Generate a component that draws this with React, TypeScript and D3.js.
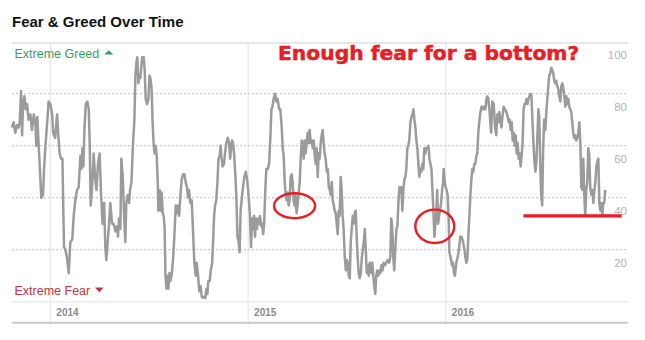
import React from 'react';
import * as d3 from 'd3';

const TITLE = 'Fear & Greed Over Time';
const ANNOTATION = 'Enough fear for a bottom?';
const GREED_LABEL = 'Extreme Greed';
const FEAR_LABEL = 'Extreme Fear';
const YEAR_TICKS = [2014, 2015, 2016];
const VALUE_GRID = [20, 40, 60, 80];
const VALUE_LABELS = [20, 40, 60, 80, 100];
const TIME_DOMAIN = [2013.806, 2016.921];

// [decimal year, Fear & Greed index]
const SERIES: [number, number][] = [
  [2013.806, 67], [2013.814, 69], [2013.823, 65], [2013.832, 68], [2013.840, 67], [2013.845, 69], [2013.852, 81], [2013.857, 64],
  [2013.862, 76], [2013.869, 79], [2013.875, 74], [2013.882, 76], [2013.890, 70], [2013.899, 72], [2013.907, 66], [2013.916, 72],
  [2013.924, 69], [2013.929, 60], [2013.934, 71], [2013.941, 60], [2013.949, 48], [2013.954, 40], [2013.963, 41], [2013.968, 51],
  [2013.976, 61], [2013.985, 70], [2013.991, 77], [2014.000, 76], [2014.009, 72], [2014.014, 65], [2014.024, 63], [2014.034, 72],
  [2014.040, 64], [2014.047, 57], [2014.054, 55], [2014.061, 55], [2014.066, 33], [2014.069, 21], [2014.076, 20], [2014.084, 17],
  [2014.093, 11], [2014.101, 23], [2014.111, 24], [2014.118, 33], [2014.126, 39], [2014.135, 43], [2014.143, 44], [2014.152, 56],
  [2014.157, 51], [2014.162, 59], [2014.167, 52], [2014.172, 66], [2014.179, 76], [2014.187, 77], [2014.194, 74], [2014.199, 61],
  [2014.204, 37], [2014.211, 44], [2014.219, 57], [2014.226, 48], [2014.233, 43], [2014.241, 53], [2014.249, 57], [2014.256, 42],
  [2014.264, 30], [2014.272, 38], [2014.278, 21], [2014.283, 16], [2014.290, 23], [2014.297, 30], [2014.303, 38], [2014.312, 30],
  [2014.320, 30], [2014.329, 27], [2014.337, 29], [2014.342, 25], [2014.347, 32], [2014.354, 28], [2014.359, 55], [2014.366, 48],
  [2014.373, 33], [2014.379, 23], [2014.384, 38], [2014.391, 41], [2014.398, 38], [2014.403, 43], [2014.410, 46],
  [2014.418, 61], [2014.425, 70], [2014.430, 87], [2014.435, 92], [2014.440, 94], [2014.445, 84], [2014.450, 87], [2014.455, 86],
  [2014.464, 94], [2014.472, 94], [2014.477, 89], [2014.482, 78], [2014.489, 76], [2014.496, 78], [2014.501, 87], [2014.506, 86],
  [2014.512, 82], [2014.517, 69], [2014.522, 61], [2014.527, 57], [2014.532, 60], [2014.538, 56], [2014.543, 46], [2014.546, 35],
  [2014.553, 43], [2014.558, 35], [2014.563, 42], [2014.568, 34], [2014.573, 33], [2014.578, 28], [2014.582, 10], [2014.587, 5],
  [2014.592, 10], [2014.597, 5], [2014.602, 11], [2014.607, 8], [2014.613, 10], [2014.620, 16], [2014.627, 25], [2014.634, 37],
  [2014.641, 34], [2014.646, 37], [2014.651, 33], [2014.657, 40], [2014.664, 47], [2014.671, 49], [2014.678, 49], [2014.684, 46],
  [2014.691, 44], [2014.696, 40], [2014.701, 43], [2014.708, 38], [2014.715, 39], [2014.722, 26], [2014.728, 15], [2014.735, 10],
  [2014.740, 15], [2014.747, 10], [2014.753, 4], [2014.760, 6], [2014.765, 2], [2014.772, 1.5], [2014.779, 2], [2014.784, 1.5],
  [2014.789, 5], [2014.794, 3], [2014.799, 8], [2014.806, 8], [2014.811, 12], [2014.818, 15], [2014.823, 23], [2014.828, 33],
  [2014.833, 37], [2014.839, 39], [2014.845, 46], [2014.850, 55], [2014.856, 56], [2014.861, 60], [2014.866, 55], [2014.871, 52],
  [2014.878, 53], [2014.883, 57], [2014.890, 61], [2014.897, 63], [2014.904, 61], [2014.909, 55], [2014.914, 59], [2014.919, 62],
  [2014.924, 61], [2014.929, 57], [2014.936, 48], [2014.941, 39], [2014.946, 25], [2014.952, 23], [2014.957, 19], [2014.962, 35],
  [2014.967, 39], [2014.974, 44], [2014.981, 48], [2014.988, 50], [2014.995, 47], [2015.000, 43], [2015.005, 38], [2015.010, 32],
  [2015.015, 21], [2015.020, 32], [2015.025, 28], [2015.030, 33], [2015.035, 25], [2015.040, 32], [2015.045, 28], [2015.050, 32],
  [2015.055, 30], [2015.060, 33], [2015.066, 29], [2015.071, 30], [2015.076, 26], [2015.081, 30], [2015.087, 43], [2015.092, 51],
  [2015.099, 51], [2015.106, 53], [2015.113, 64], [2015.118, 74], [2015.123, 75], [2015.129, 78], [2015.136, 80], [2015.143, 77],
  [2015.149, 78], [2015.157, 74], [2015.163, 74], [2015.170, 67], [2015.175, 59], [2015.180, 56], [2015.185, 46], [2015.190, 41],
  [2015.195, 39], [2015.200, 42], [2015.205, 37], [2015.210, 39], [2015.215, 48], [2015.220, 49], [2015.225, 46], [2015.230, 39],
  [2015.235, 37], [2015.240, 41], [2015.245, 34], [2015.251, 38], [2015.256, 42], [2015.261, 46], [2015.266, 55], [2015.271, 62],
  [2015.276, 61], [2015.281, 55], [2015.286, 62], [2015.291, 57], [2015.296, 61], [2015.301, 65], [2015.306, 61], [2015.311, 66],
  [2015.317, 61], [2015.322, 62], [2015.327, 59], [2015.332, 62], [2015.337, 56], [2015.342, 53], [2015.347, 59], [2015.352, 48],
  [2015.357, 57], [2015.362, 55], [2015.367, 61], [2015.372, 64], [2015.377, 66], [2015.382, 61], [2015.387, 57], [2015.392, 55],
  [2015.398, 50], [2015.403, 51], [2015.408, 44], [2015.413, 43], [2015.418, 41], [2015.423, 46], [2015.428, 39], [2015.433, 37],
  [2015.438, 35], [2015.443, 34], [2015.448, 30], [2015.453, 26], [2015.458, 35], [2015.463, 33], [2015.468, 48], [2015.473, 43],
  [2015.478, 33], [2015.483, 28], [2015.489, 17], [2015.494, 12], [2015.499, 16], [2015.504, 15], [2015.509, 10], [2015.514, 9],
  [2015.519, 23], [2015.524, 28], [2015.529, 33], [2015.534, 30], [2015.539, 34], [2015.544, 35], [2015.549, 25], [2015.554, 17],
  [2015.559, 11], [2015.564, 9], [2015.570, 11], [2015.575, 17], [2015.580, 20], [2015.585, 23], [2015.590, 28], [2015.595, 20],
  [2015.600, 11], [2015.605, 14], [2015.610, 10], [2015.615, 15],
  [2015.618, 14], [2015.623, 11], [2015.628, 15], [2015.633, 10], [2015.638, 6], [2015.643, 3], [2015.648, 10], [2015.653, 12],
  [2015.658, 10], [2015.664, 12], [2015.669, 11], [2015.674, 14], [2015.679, 12], [2015.685, 15], [2015.692, 14], [2015.699, 15],
  [2015.706, 16], [2015.713, 15], [2015.719, 17], [2015.724, 32], [2015.729, 28], [2015.734, 17], [2015.739, 12], [2015.744, 20],
  [2015.750, 28], [2015.755, 29], [2015.760, 38], [2015.765, 44], [2015.770, 42], [2015.775, 44], [2015.780, 35], [2015.785, 43],
  [2015.790, 47], [2015.795, 48], [2015.800, 51], [2015.805, 59], [2015.810, 60], [2015.815, 62], [2015.821, 69], [2015.826, 71],
  [2015.831, 72], [2015.836, 74], [2015.841, 70], [2015.846, 67], [2015.851, 62], [2015.856, 59], [2015.861, 53], [2015.866, 48],
  [2015.871, 51], [2015.876, 50], [2015.881, 53], [2015.886, 51], [2015.891, 59], [2015.896, 57], [2015.901, 59], [2015.906, 59],
  [2015.912, 60], [2015.917, 55], [2015.922, 53], [2015.927, 51], [2015.932, 43], [2015.937, 35], [2015.942, 25], [2015.947, 30],
  [2015.952, 35], [2015.956, 43], [2015.961, 30], [2015.966, 33], [2015.970, 35], [2015.976, 38], [2015.981, 43], [2015.986, 46],
  [2015.989, 51], [2015.994, 46], [2015.999, 44], [2016.004, 43], [2016.009, 41], [2016.014, 32], [2016.018, 19], [2016.024, 17],
  [2016.031, 14], [2016.036, 15], [2016.041, 11], [2016.046, 10], [2016.053, 15], [2016.059, 17], [2016.066, 20], [2016.073, 25],
  [2016.080, 25], [2016.087, 23], [2016.094, 20], [2016.099, 17], [2016.104, 15], [2016.109, 17], [2016.114, 26], [2016.119, 33],
  [2016.124, 41], [2016.129, 47], [2016.134, 51], [2016.139, 50], [2016.144, 53], [2016.149, 53], [2016.154, 56], [2016.159, 57],
  [2016.164, 65], [2016.170, 70], [2016.175, 73], [2016.180, 75], [2016.185, 75], [2016.190, 74], [2016.195, 75], [2016.200, 74],
  [2016.205, 78], [2016.210, 79], [2016.215, 78], [2016.220, 74],
  [2016.229, 65], [2016.235, 77], [2016.242, 76], [2016.249, 67], [2016.255, 64], [2016.260, 72], [2016.265, 69], [2016.270, 73],
  [2016.276, 70], [2016.281, 67], [2016.286, 71], [2016.292, 75], [2016.299, 74], [2016.306, 73], [2016.313, 71], [2016.318, 69],
  [2016.323, 70], [2016.328, 66], [2016.333, 69], [2016.338, 62], [2016.343, 65], [2016.348, 60], [2016.353, 64], [2016.358, 57],
  [2016.363, 61], [2016.368, 55], [2016.373, 57], [2016.378, 52], [2016.383, 56], [2016.388, 61], [2016.393, 74], [2016.398, 76],
  [2016.403, 76], [2016.408, 78], [2016.413, 76], [2016.418, 78], [2016.423, 79], [2016.428, 80], [2016.433, 79], [2016.438, 69],
  [2016.443, 61], [2016.448, 54], [2016.453, 50], [2016.458, 54], [2016.463, 64], [2016.468, 74], [2016.472, 71], [2016.477, 54],
  [2016.482, 41], [2016.487, 37], [2016.492, 59], [2016.497, 70], [2016.503, 66], [2016.508, 73], [2016.513, 78], [2016.518, 83],
  [2016.523, 87], [2016.528, 88], [2016.533, 90], [2016.538, 89], [2016.543, 88], [2016.548, 85], [2016.553, 84], [2016.558, 85],
  [2016.563, 83], [2016.568, 82], [2016.573, 79], [2016.579, 77], [2016.584, 83], [2016.589, 84], [2016.594, 82], [2016.599, 79],
  [2016.604, 75], [2016.609, 79], [2016.614, 76], [2016.619, 78], [2016.624, 75], [2016.629, 74], [2016.634, 73], [2016.639, 69],
  [2016.644, 65], [2016.649, 63], [2016.654, 64], [2016.659, 62], [2016.665, 63], [2016.670, 65], [2016.675, 69], [2016.680, 61],
  [2016.685, 44], [2016.690, 43], [2016.695, 55], [2016.700, 41], [2016.705, 33], [2016.710, 43], [2016.715, 46], [2016.720, 59],
  [2016.725, 57], [2016.730, 44], [2016.736, 41], [2016.741, 43], [2016.746, 38], [2016.751, 43], [2016.756, 46], [2016.761, 52],
  [2016.766, 54], [2016.771, 55], [2016.776, 38], [2016.781, 35], [2016.786, 38], [2016.791, 33], [2016.796, 38], [2016.801, 38],
  [2016.806, 43],
];

// annotation anchors: [decimal year, index value]
const CIRCLED_POINTS: [number, number][] = [[2015.235, 36.9], [2015.944, 29.0]];
const SUPPORT_LEVEL = 33;
const SUPPORT_SPAN = [2016.392, 2016.889];

const W = 645;
const H = 340;
const RED = '#ec1c24';

export default function App() {
  const x = d3.scaleLinear().domain(TIME_DOMAIN).range([12, 628]);
  const y = d3.scaleLinear().domain([0, 100]).range([301.7, 41.7]);
  const line = d3.line<[number, number]>().x(d => x(d[0])).y(d => y(d[1]));
  const left = 12;
  const right = 628;
  const sans = '"Liberation Sans", Arial, sans-serif';

  return (
    <svg width={W} height={H} style={{ position: 'absolute', left: 0, top: 0, background: '#fff' }}>
      <rect x={0} y={0} width={W} height={H} fill="#fff" />
      <text x={12} y={27} fontFamily={sans} fontWeight={700} fontSize={15} fill="#111">{TITLE}</text>

      {/* frame */}
      <line x1={left} x2={right} y1={43} y2={43} stroke="#cfcfcf" strokeWidth={1.2} />
      {YEAR_TICKS.map(t => (
        <line key={'v' + t} x1={x(t)} x2={x(t)} y1={43} y2={325} stroke="#e2e2e2" strokeWidth={1} />
      ))}
      {VALUE_GRID.map(v => (
        <line key={'g' + v} x1={left} x2={right} y1={y(v)} y2={y(v)} stroke="#cdcdcd" strokeWidth={1.3} strokeDasharray="2,2" />
      ))}
      <line x1={left} x2={right} y1={y(0)} y2={y(0)} stroke="#eeeeee" strokeWidth={2} />
      <line x1={left} x2={right} y1={322.7} y2={322.7} stroke="#c9c9c9" strokeWidth={2} />

      {VALUE_LABELS.map(v => (
        <text key={'l' + v} x={627} y={y(v) + 17.5} textAnchor="end" fontFamily={sans} fontSize={11.5} fill="#b3b3b3">{v}</text>
      ))}
      {YEAR_TICKS.map(t => (
        <text key={'yl' + t} x={x(t) + 6} y={316} fontFamily={sans} fontWeight={700} fontSize={10} fill="#8a8a8a">{t}</text>
      ))}

      <text x={14.5} y={57.5} fontFamily={sans} fontSize={12.5} fill="#3a9e5c">{GREED_LABEL}</text>
      <path d="M104.3,54.5 L108.8,50.3 L113.3,54.5 Z" fill="#3a9e5c" />
      <text x={14.5} y={295} fontFamily={sans} fontSize={12.5} fill="#c9313b">{FEAR_LABEL}</text>
      <path d="M95,287.6 L103.5,287.6 L99.25,292.2 Z" fill="#c9313b" />

      <path d={line(SERIES) || ''} fill="none" stroke="#9b9b9b" strokeWidth={2.5} strokeLinejoin="round" />

      <text x={278} y={60} fontFamily='"DejaVu Sans", Verdana, sans-serif' fontWeight={700} fontSize={20.3}
        fill={RED} stroke={RED} strokeWidth={0.5}>{ANNOTATION}</text>
      <ellipse cx={x(CIRCLED_POINTS[0][0])} cy={y(CIRCLED_POINTS[0][1])} rx={20.5} ry={12.5} fill="none" stroke={RED} strokeWidth={2.4} />
      <ellipse cx={x(CIRCLED_POINTS[1][0])} cy={y(CIRCLED_POINTS[1][1])} rx={19.5} ry={16.7} fill="none" stroke={RED} strokeWidth={2.4} />
      <line x1={x(SUPPORT_SPAN[0])} x2={x(SUPPORT_SPAN[1])} y1={y(SUPPORT_LEVEL)} y2={y(SUPPORT_LEVEL)} stroke={RED} strokeWidth={3.2} />
    </svg>
  );
}
